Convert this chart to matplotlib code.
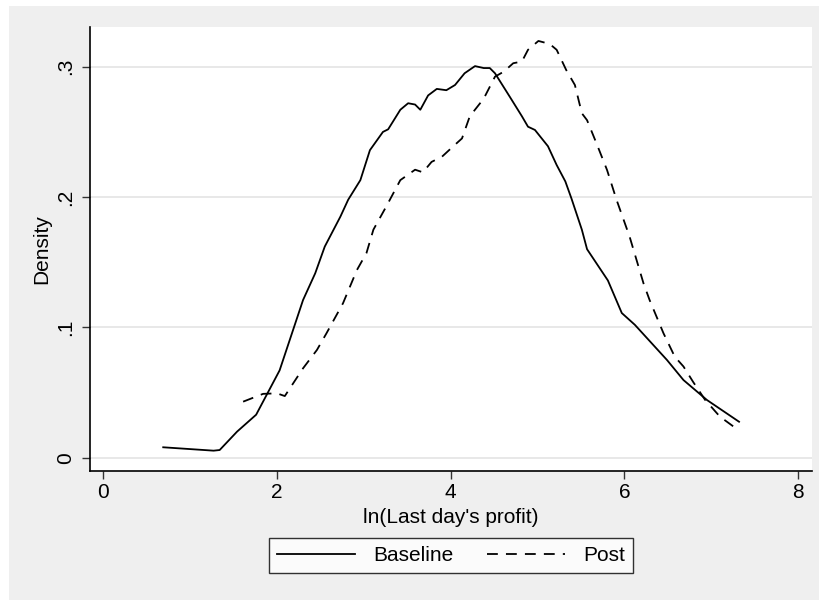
import matplotlib
matplotlib.use("Agg")
import matplotlib.pyplot as plt
from matplotlib.patches import Rectangle

# kernel density estimates
baseline_x = [0.69, 1.27, 1.34, 1.54, 1.76, 2.03, 2.19, 2.30, 2.44, 2.55, 2.73, 2.82,
              2.96, 3.07, 3.22, 3.28, 3.42, 3.51, 3.59, 3.65, 3.74, 3.84, 3.95, 4.05,
              4.16, 4.28, 4.38, 4.45, 4.51, 4.68, 4.82, 4.89, 4.97, 5.12, 5.22, 5.32,
              5.39, 5.51, 5.57, 5.81, 5.97, 6.12, 6.49, 6.68, 6.95, 7.32]
baseline_y = [0.008, 0.0054, 0.0059, 0.020, 0.033, 0.067, 0.099, 0.121, 0.1415, 0.162,
              0.185, 0.198, 0.213, 0.236, 0.250, 0.252, 0.267, 0.272, 0.271, 0.267,
              0.278, 0.283, 0.282, 0.286, 0.295, 0.3005, 0.299, 0.299, 0.295, 0.277,
              0.262, 0.254, 0.2515, 0.239, 0.2246, 0.212, 0.199, 0.175, 0.160, 0.136,
              0.111, 0.102, 0.075, 0.0596, 0.0443, 0.0276]

post_x = [1.61, 1.84, 2.00, 2.09, 2.30, 2.46, 2.57, 2.76, 2.92, 3.03, 3.11, 3.26, 3.42,
          3.59, 3.68, 3.78, 3.90, 4.03, 4.13, 4.22, 4.38, 4.51, 4.61, 4.72, 4.82, 4.89,
          5.01, 5.14, 5.22, 5.33, 5.43, 5.51, 5.57, 5.68, 5.80, 5.91, 6.06, 6.22, 6.29,
          6.45, 6.58, 6.68, 6.79, 6.93, 7.10, 7.31]
post_y = [0.043, 0.049, 0.0494, 0.0473, 0.0686, 0.0827, 0.0955, 0.1185, 0.144, 0.157,
          0.175, 0.193, 0.213, 0.221, 0.219, 0.227, 0.231, 0.239, 0.245, 0.262, 0.2755,
          0.2924, 0.2962, 0.3027, 0.304, 0.313, 0.3198, 0.3175, 0.313, 0.2975, 0.286,
          0.2643, 0.259, 0.241, 0.2208, 0.1978, 0.1696, 0.1338, 0.121, 0.0955, 0.0775,
          0.070, 0.0583, 0.0443, 0.0315, 0.0213]

x_ticks = [0, 2, 4, 6, 8]
y_ticks = [0, 0.1, 0.2, 0.3]
y_ticklabels = ["0", ".1", ".2", ".3"]

plt.rcParams['font.family'] = ['Liberation Sans', 'DejaVu Sans']
fs = 15
bg = '#efefef'

fig = plt.figure(figsize=(8.2, 6), dpi=100, facecolor='white')
fig.patches.append(Rectangle((9 / 820, 0), 1, 1 - 6 / 600, transform=fig.transFigure,
                             facecolor=bg, edgecolor='none', zorder=-10))

ax = fig.add_axes([90 / 820, 1 - 471 / 600, 722 / 820, 444 / 600])
ax.set_facecolor('white')

ax.plot(baseline_x, baseline_y, color='black', lw=1.3, label='Baseline')
ax.plot(post_x, post_y, color='black', lw=1.3, linestyle=(0, (6, 4.5)), label='Post')

ax.set_xlim(-0.153, 8.16)
ax.set_ylim(-0.0102, 0.3305)
ax.set_xticks(x_ticks)
ax.set_yticks(y_ticks)
ax.set_yticklabels(y_ticklabels, rotation=90, va='center')
ax.grid(axis='y', color='#e4e4e4', lw=1.2)
ax.set_axisbelow(True)

for s in ['top', 'right']:
    ax.spines[s].set_visible(False)
for s in ['left', 'bottom']:
    ax.spines[s].set_linewidth(1.2)
ax.tick_params(axis='both', length=6, width=1, labelsize=fs, color='#333333')
ax.tick_params(axis='y', pad=5)
ax.tick_params(axis='x', pad=3)

ax.set_xlabel("ln(Last day's profit)", fontsize=fs)
ax.set_ylabel("Density", fontsize=fs)
ax.xaxis.set_label_coords(0.5, -0.083)
ax.yaxis.set_label_coords(-0.053, 0.5)

leg = ax.legend(loc='upper center', bbox_to_anchor=(0.5, -0.15), ncol=2, fontsize=fs,
                frameon=True, fancybox=False, handlelength=3.75, handletextpad=0.87,
                columnspacing=1.6, borderpad=0.4, borderaxespad=0)
leg.get_frame().set_edgecolor('black')
leg.get_frame().set_linewidth(1.0)

fig.savefig('out.png', dpi=100, facecolor=fig.get_facecolor())
